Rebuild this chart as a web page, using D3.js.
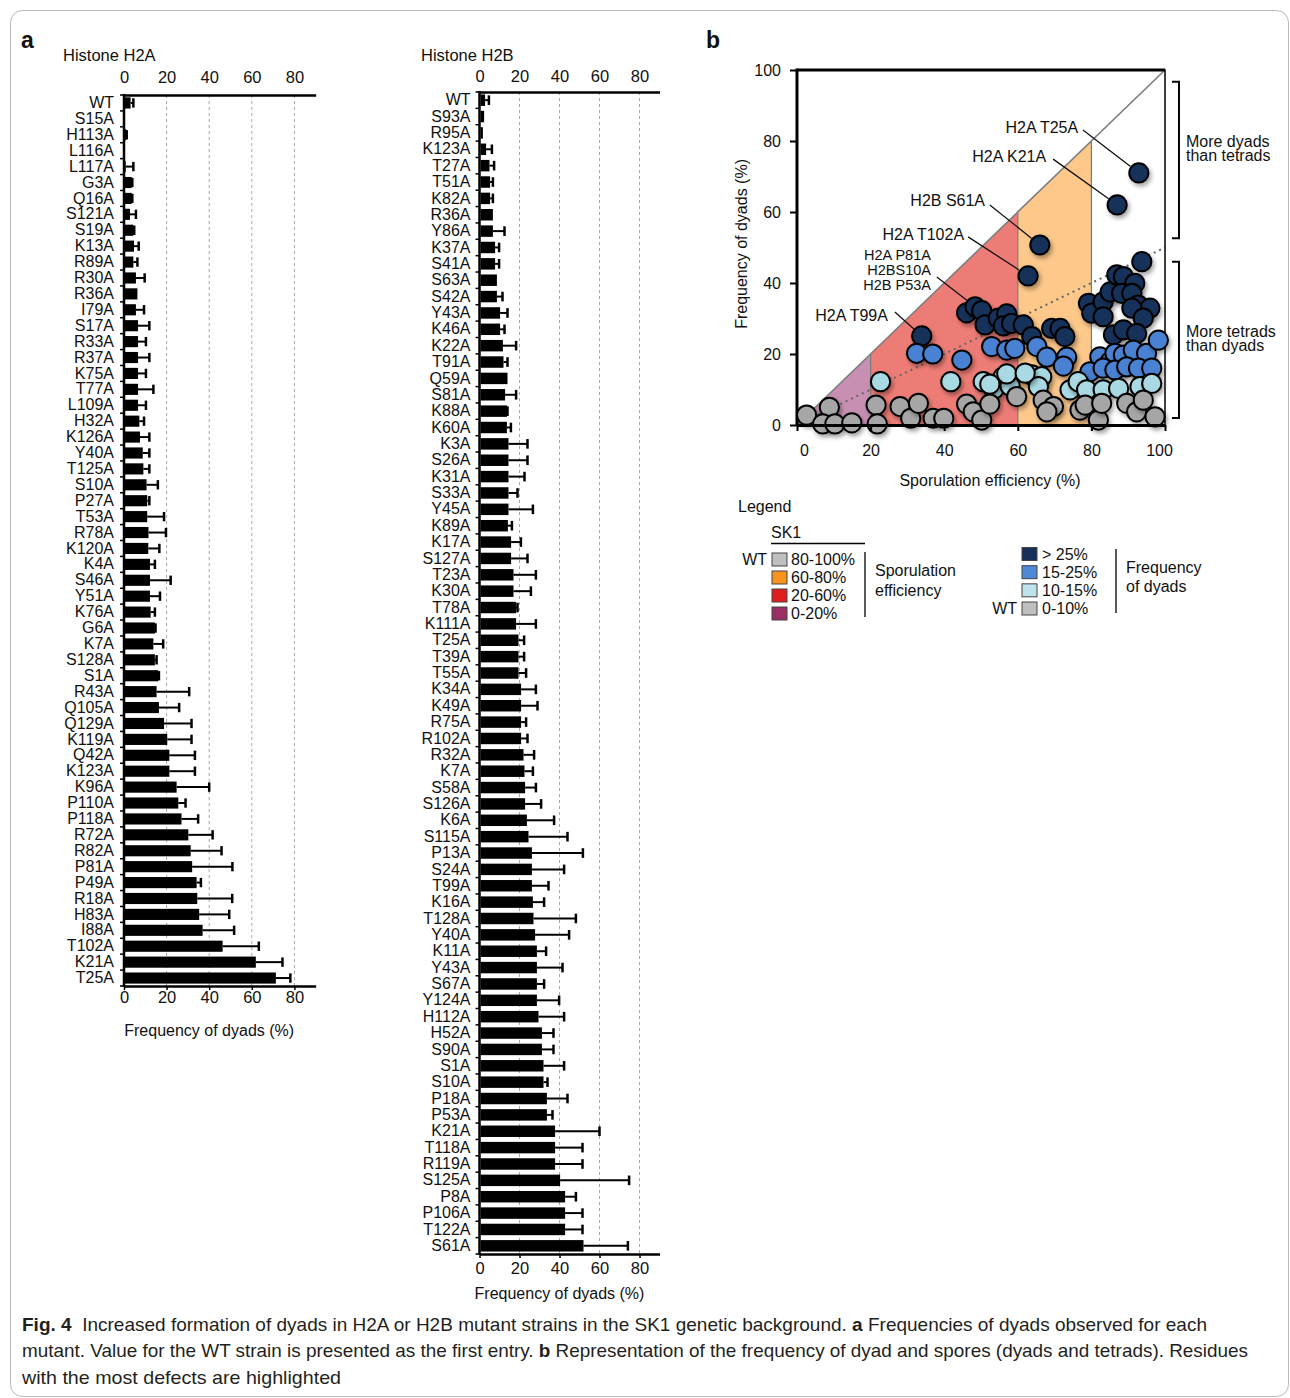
<!DOCTYPE html>
<html><head><meta charset="utf-8">
<script src="https://cdn.jsdelivr.net/npm/d3@7"></script>
<style>
body{margin:0;background:#fff}
svg{display:block}
text{font-family:"Liberation Sans",Arial,Helvetica,sans-serif;fill:#111}
</style></head>
<body><svg id="c" width="1290" height="1398"></svg>
<script>
// ---------------- DATA ----------------
const h2aLabels = ["WT","S15A","H113A","L116A","L117A","G3A","Q16A","S121A","S19A","K13A","R89A","R30A","R36A","I79A","S17A","R33A","R37A","K75A","T77A","L109A","H32A","K126A","Y40A","T125A","S10A","P27A","T53A","R78A","K120A","K4A","S46A","Y51A","K76A","G6A","K7A","S128A","S1A","R43A","Q105A","Q129A","K119A","Q42A","K123A","K96A","P110A","P118A","R72A","R82A","P81A","P49A","R18A","H83A","I88A","T102A","K21A","T25A"];
const h2aValues = [3.1,0.4,1.0,0.2,0.8,3.6,3.6,2.8,4.4,4.7,4.4,5.6,6.3,5.6,6.6,6.6,6.6,6.6,6.6,6.6,7.2,7.5,8.8,9.1,10.6,10.9,10.9,11.5,11.4,12.2,12.2,12.2,12.5,14.5,13.8,14.5,16.1,15.3,16.4,18.8,20.3,21.3,21.3,24.7,25.5,27.0,30.2,31.3,32.0,34.1,34.4,35.3,36.9,46.3,61.9,71.3];
const h2aErrors = [1.3,0,0.3,0,3.6,0.3,0.3,2.8,0.4,2.2,1.9,4.1,0,3.8,5.3,3.7,5.3,3.7,7.2,3.7,2.2,4.4,3.1,2.8,5.3,1.0,7.9,8.2,5.2,2.3,9.7,4.7,2.0,0.3,4.6,0.8,0.3,15.3,9.5,12.9,11.4,12.0,12.0,15.3,3.4,7.8,11.4,14.5,18.9,2.0,16.4,14.1,14.8,17.0,12.5,6.8];

const h2bLabels = ["WT","S93A","R95A","K123A","T27A","T51A","K82A","R36A","Y86A","K37A","S41A","S63A","S42A","Y43A","K46A","K22A","T91A","Q59A","S81A","K88A","K60A","K3A","S26A","K31A","S33A","Y45A","K89A","K17A","S127A","T23A","K30A","T78A","K111A","T25A","T39A","T55A","K34A","K49A","R75A","R102A","R32A","K7A","S58A","S126A","K6A","S115A","P13A","S24A","T99A","K16A","T128A","Y40A","K11A","Y43A","S67A","Y124A","H112A","H52A","S90A","S1A","S10A","P18A","P53A","K21A","T118A","R119A","S125A","P8A","P106A","T122A","S61A"];
const h2bValues = [2.8,2.3,1.7,3.3,5.0,5.3,5.3,6.7,6.7,7.8,7.8,8.7,8.7,10.3,10.3,11.7,12.0,14.0,12.8,13.7,13.7,14.5,14.5,14.5,14.5,14.5,14.2,15.8,15.8,17.0,17.0,18.3,18.3,19.5,19.5,19.5,20.8,20.8,20.8,20.8,22.0,22.5,22.8,22.8,23.7,24.5,26.2,26.2,26.2,26.7,27.0,27.8,28.7,28.7,28.7,28.7,29.5,31.2,31.2,32.0,32.0,33.7,33.7,37.8,37.8,37.8,40.3,42.8,42.8,42.8,52.0];
const h2bErrors = [1.9,0,0,2.9,2.3,1.4,1.4,0,5.8,2.0,2.0,0,2.8,3.7,2.2,6.6,2.0,0,5.5,0.3,2.0,9.5,9.5,8.0,4.5,12.2,2.0,4.9,8.2,11.2,8.7,0.7,9.9,2.8,2.8,3.8,7.4,8.2,2.5,3.2,5.3,4.2,5.4,8.0,13.6,19.5,25.5,16.1,8.3,5.6,21.2,17.0,4.6,12.8,3.6,11.1,12.8,5.8,5.8,10.3,2.0,10.3,2.8,22.2,13.7,13.7,34.5,5.4,8.7,8.7,22.2];

const barTicks = [0,20,40,60,80];
const scatterTicks = [0,20,40,60,80,100];

// scatter: sporulation efficiency (%), frequency of dyads (%), dyad class (0: >25, 1: 15-25, 2: 10-15, 3: 0-10)
const scatterSpo = [92.9,87.0,66.0,62.8,33.9,46.1,48.4,50.2,51.1,54.7,57.0,56.1,58.3,61.5,63.8,69.2,71.5,72.8,79.2,80.1,83.2,85.1,86.9,88.7,91.8,93.7,88.2,91.0,92.7,95.9,83.2,91.0,94.1,86.0,88.7,92.3,
  32.5,36.9,44.8,52.9,57.0,59.2,65.2,67.9,73.3,72.4,82.3,85.1,86.4,88.7,91.4,95.0,98.2,79.6,83.2,86.4,89.6,92.8,96.4,
  22.7,41.8,50.6,53.5,56.0,57.9,57.0,52.4,63.8,66.5,65.6,74.2,76.4,78.7,83.2,87.4,93.2,96.4,62.0,
  2.6,8.8,7.0,10.3,14.9,21.5,21.8,28.0,30.9,33.0,37.0,39.9,46.1,47.9,50.2,52.4,59.7,66.9,69.7,67.9,76.9,78.3,81.9,82.8,89.6,92.3,94.1,97.3];
const scatterDyad = [71.0,62.0,50.7,42.0,25.1,31.6,33.3,32.2,28.2,30.1,31.3,27.9,28.6,28.2,24.9,27.2,27.2,24.9,34.3,31.5,34.7,37.5,42.3,41.8,39.9,46.0,37.1,37.1,33.8,32.9,30.5,32.9,30.1,25.4,26.8,25.8,
  20.2,20.0,18.3,22.1,21.1,21.6,22.1,19.1,19.1,16.6,19.2,17.8,20.2,19.7,21.1,20.2,23.9,15.0,16.0,15.5,16.4,16.0,16.0,
  12.2,12.2,12.2,10.1,13.5,11.0,14.4,11.5,14.1,13.6,10.8,9.9,12.2,9.9,9.9,10.3,10.8,11.7,14.6,
  2.8,5.0,0.3,0.3,0.6,5.6,0.3,5.2,1.9,6.1,1.9,1.9,5.9,3.7,1.4,5.9,8.0,7.0,5.2,3.7,4.2,5.6,1.4,6.1,6.1,3.7,7.0,2.3];
const scatterClass = [].concat(Array(36).fill(0), Array(23).fill(1), Array(19).fill(2), Array(28).fill(3));

const annotationLabels = [["H2A T25A"],["H2A K21A"],["H2B S61A"],["H2A T102A"],["H2A P81A","H2BS10A","H2B P53A"],["H2A T99A"]];
const annotationTargets = [[92.9,71.0],[87.0,62.0],[66.0,50.7],[62.8,42.0],[48.4,33.3],[33.9,25.1]];

const sporLabels = ["80-100%","60-80%","20-60%","0-20%"];
const dyadLabels = ["> 25%","15-25%","10-15%","0-10%"];

// ---------------- STYLE / LAYOUT ----------------
const sporColors = ["#bfbfbf","#f7941e","#e01c1c","#9a2f62"];
const dyadColors = ["#16305a","#4f88d6","#bfe3ea","#bfbfbf"];
const pointColors = ["#16305a","#4a82d2","#a9dae3","#a6a6a6"];
const zoneColors = {purple:"#c78fb2", red:"#ee7c76", orange:"#fdc88a"};
const FONT = '"Liberation Sans", Arial, Helvetica, sans-serif';

const svg = d3.select("#c");
const defs = svg.append("defs");
const flt = defs.append("filter").attr("id","sh").attr("x","-60%").attr("y","-60%").attr("width","220%").attr("height","220%");
flt.append("feDropShadow").attr("dx",2).attr("dy",3).attr("stdDeviation",2).attr("flood-color","#000").attr("flood-opacity",0.35);

// figure border
svg.append("rect").attr("x",10.5).attr("y",10.5).attr("width",1278).attr("height",1386)
  .attr("rx",12).attr("fill","none").attr("stroke","#b8b8b8").attr("stroke-width",1);

// panel letters
svg.append("text").attr("x",21).attr("y",48).attr("font-size",23).attr("font-weight","bold").text("a");
svg.append("text").attr("x",706).attr("y",48).attr("font-size",23).attr("font-weight","bold").text("b");

function styleAxis(g, size){
  g.attr("font-family",FONT).attr("font-size",size);
  g.selectAll("text").attr("fill","#111");
}

function barPanel(o){
  const g = svg.append("g");
  const n = o.labels.length;
  const x = d3.scaleLinear().domain([0,90]).range(o.xRange);
  const y = d3.scaleBand().domain(d3.range(n)).range([o.yTop,o.yBottom]).paddingInner(0.3).paddingOuter(0.15);
  const step = y.step(), bw = y.bandwidth();
  g.selectAll("line.grid").data(barTicks.slice(1)).join("line")
    .attr("x1",d=>x(d)).attr("x2",d=>x(d)).attr("y1",o.yTop).attr("y2",o.yBottom)
    .attr("stroke","#a8a8a8").attr("stroke-width",1).attr("stroke-dasharray","3,3");
  g.selectAll("rect.bar").data(o.values).join("rect")
    .attr("x",x(0)+1).attr("y",(d,i)=>y(i)).attr("height",bw)
    .attr("width",d=>Math.max(0,x(d)-x(0)-1)).attr("fill","#000");
  const eb = g.selectAll("g.err").data(o.values.map((v,i)=>({v,e:o.errors[i],i})).filter(d=>d.e>0.05)).join("g");
  eb.append("line").attr("x1",d=>x(d.v)).attr("x2",d=>x(d.v+d.e))
    .attr("y1",d=>y(d.i)+bw/2).attr("y2",d=>y(d.i)+bw/2).attr("stroke","#000").attr("stroke-width",2);
  eb.append("line").attr("x1",d=>x(d.v+d.e)).attr("x2",d=>x(d.v+d.e))
    .attr("y1",d=>y(d.i)+bw*0.08).attr("y2",d=>y(d.i)+bw*0.92).attr("stroke","#000").attr("stroke-width",2.5);
  const la = g.append("g").attr("transform",`translate(${x(0)},0)`)
    .call(d3.axisLeft(y).tickFormat(i=>o.labels[i]).tickSize(0).tickPadding(o.labelPad));
  la.select(".domain").remove();
  styleAxis(la, 16);
  g.selectAll("line.btick").data(d3.range(n+1)).join("line")
    .attr("x1",x(0)-4).attr("x2",x(0)).attr("y1",i=>o.yTop+i*step).attr("y2",i=>o.yTop+i*step)
    .attr("stroke","#000").attr("stroke-width",1.5);
  g.append("line").attr("x1",x(0)).attr("x2",x(0)).attr("y1",o.yTop-1).attr("y2",o.yBottom+1)
    .attr("stroke","#000").attr("stroke-width",2.5);
  const ta = g.append("g").attr("transform",`translate(0,${o.yTop})`)
    .call(d3.axisTop(x).tickValues(barTicks).tickSize(0).tickPadding(o.topPad).tickSizeOuter(0));
  ta.select(".domain").attr("stroke-width",2.5);
  styleAxis(ta, 16.5);
  const ba = g.append("g").attr("transform",`translate(0,${o.yBottom})`)
    .call(d3.axisBottom(x).tickValues(barTicks).tickSize(4).tickPadding(o.botPad).tickSizeOuter(0));
  ba.select(".domain").attr("stroke-width",2.5);
  ba.selectAll(".tick line").attr("stroke-width",1.5);
  styleAxis(ba, 16.5);
  g.append("text").attr("x",o.titleX).attr("y",o.titleY).attr("font-size",16.5).text(o.title);
  g.append("text").attr("x",x(40)).attr("y",o.axisTitleY).attr("text-anchor","middle").attr("font-size",16).text("Frequency of dyads (%)");
}

barPanel({labels:h2aLabels, values:h2aValues, errors:h2aErrors, xRange:[124,315.7], yTop:95, yBottom:986,
  labelPad:10, topPad:12, botPad:1, title:"Histone H2A", titleX:63, titleY:61, axisTitleY:1036});
barPanel({labels:h2bLabels, values:h2bValues, errors:h2bErrors, xRange:[479.5,659.5], yTop:92, yBottom:1254,
  labelPad:9, topPad:10, botPad:4, title:"Histone H2B", titleX:421, titleY:61, axisTitleY:1299});

// ---------------- SCATTER ----------------
const sx = d3.scaleLinear().domain([0,100]).range([797,1165]);
const sy = d3.scaleLinear().domain([0,100]).range([425,70]);
const sg = svg.append("g");
const poly = pts => pts.map(p=>[sx(p[0]),sy(p[1])].join(",")).join(" ");
sg.append("polygon").attr("points",poly([[0,0],[20,20],[20,0]])).attr("fill",zoneColors.purple);
sg.append("polygon").attr("points",poly([[20,0],[20,20],[60,60],[60,0]])).attr("fill",zoneColors.red);
sg.append("polygon").attr("points",poly([[60,0],[60,60],[80,80],[80,0]])).attr("fill",zoneColors.orange);
[20,60,80].forEach(v=>{
  sg.append("line").attr("x1",sx(v)).attr("x2",sx(v)).attr("y1",sy(0)).attr("y2",sy(v))
    .attr("stroke","#7a7a7a").attr("stroke-width",1.2);
});
sg.append("line").attr("x1",sx(0)).attr("y1",sy(0)).attr("x2",sx(100)).attr("y2",sy(100))
  .attr("stroke","#7d7d7d").attr("stroke-width",1.6);
sg.append("line").attr("x1",sx(0)).attr("y1",sy(0)).attr("x2",sx(100)).attr("y2",sy(50))
  .attr("stroke","#666").attr("stroke-width",2).attr("stroke-dasharray","2,4");

sg.append("rect").attr("x",sx(0)).attr("y",sy(100)).attr("width",sx(100)-sx(0)).attr("height",sy(0)-sy(100))
  .attr("fill","none").attr("stroke","#000").attr("stroke-width",1.5);
sg.append("line").attr("x1",sx(0)).attr("x2",sx(100)).attr("y1",sy(100)).attr("y2",sy(100)).attr("stroke","#000").attr("stroke-width",3);
sg.append("line").attr("x1",sx(0)).attr("x2",sx(0)).attr("y1",sy(100)-1.5).attr("y2",sy(0)).attr("stroke","#000").attr("stroke-width",3);

const yAx = sg.append("g").attr("transform",`translate(${sx(0)},0)`)
  .call(d3.axisLeft(sy).tickValues(scatterTicks).tickSize(7).tickPadding(9).tickSizeOuter(0));
yAx.select(".domain").remove();
yAx.selectAll(".tick line").attr("stroke-width",2);
styleAxis(yAx,16);

const annAnchors = [[76.4,83.7],[67.7,75.8],[51.1,63.4],[45.4,53.8],[36.4,43.7],[24.7,31.0]];
const annLeadStart = [[77.7,83.1],[69.6,74.9],[52.4,62.0],[46.5,53.0],[38.0,41.7],[26.6,31.8]];
annotationLabels.forEach((lines,k)=>{
  const [ax,ay] = annAnchors[k];
  const nL = lines.length;
  const fs = nL>1 ? 14.5 : 16, gap = 15;
  lines.forEach((t,j)=>{
    sg.append("text").attr("x",sx(ax)).attr("y",sy(ay)+ (j-(nL-1)/2)*gap)
      .attr("dy","0.35em").attr("text-anchor","end").attr("font-size",fs).text(t);
  });
  const x1=sx(annLeadStart[k][0]), y1=sy(annLeadStart[k][1]);
  const cx=sx(annotationTargets[k][0]), cy=sy(annotationTargets[k][1]);
  const L=Math.hypot(cx-x1,cy-y1), r=10.5;
  sg.append("line").attr("x1",x1).attr("y1",y1).attr("x2",cx-(cx-x1)/L*r).attr("y2",cy-(cy-y1)/L*r)
    .attr("stroke","#111").attr("stroke-width",1.3);
});

const pts = scatterSpo.map((s,i)=>({s, d:scatterDyad[i], c:scatterClass[i]}));
[0,1,2,3].forEach(cls=>{
  sg.selectAll(null).data(pts.filter(p=>p.c===cls)).join("circle")
    .attr("cx",p=>sx(p.s)).attr("cy",p=>sy(p.d)).attr("r",9.6)
    .attr("fill",pointColors[cls]).attr("stroke","#000").attr("stroke-width",2)
    .attr("filter","url(#sh)");
});

const xAx = sg.append("g").attr("transform",`translate(0,${sy(0)})`)
  .call(d3.axisBottom(sx).tickValues(scatterTicks).tickSize(6).tickPadding(14).tickSizeOuter(0));
xAx.select(".domain").attr("stroke-width",3);
xAx.selectAll(".tick line").attr("stroke-width",2);
styleAxis(xAx,16);
xAx.selectAll(".tick text").attr("dx",d=>d===0?7:(d===100?-6:0));

sg.append("text").attr("transform",`translate(${741},${sy(51)}) rotate(-90)`).attr("dy","0.35em")
  .attr("text-anchor","middle").attr("font-size",16).text("Frequency of dyads (%)");
sg.append("text").attr("x",990).attr("y",486).attr("text-anchor","middle").attr("font-size",16).text("Sporulation efficiency (%)");

function bracket(y0,y1,lines,ty){
  const bx = sx(103.8), arm = 7;
  sg.append("path").attr("d",`M${bx-arm},${sy(y0)}H${bx}V${sy(y1)}H${bx-arm}`)
    .attr("fill","none").attr("stroke","#000").attr("stroke-width",2);
  lines.forEach((t,j)=>sg.append("text").attr("x",sx(105.7)).attr("y",sy(ty)+j*14.5).attr("dy","0.35em")
    .attr("font-size",16).text(t));
}
bracket(96.7,52.6,["More dyads","than tetrads"],79.9);
bracket(46.0,2.0,["More tetrads","than dyads"],26.5);

// ---------------- LEGEND ----------------
const lg = svg.append("g");
lg.append("text").attr("x",738).attr("y",512).attr("font-size",16).text("Legend");
lg.append("text").attr("x",771).attr("y",538).attr("font-size",16).text("SK1");
lg.append("line").attr("x1",771).attr("x2",865).attr("y1",543.5).attr("y2",543.5).attr("stroke","#000").attr("stroke-width",1.3);
const rowL = d3.scaleLinear().domain([0,3]).range([559.5,613.5]);
lg.selectAll("rect.sp").data(sporLabels).join("rect")
  .attr("x",772).attr("y",(d,i)=>rowL(i)-6.5).attr("width",15).attr("height",13)
  .attr("fill",(d,i)=>sporColors[i]).attr("stroke","#444").attr("stroke-width",1);
lg.selectAll("text.sp").data(sporLabels).join("text")
  .attr("x",791).attr("y",(d,i)=>rowL(i)).attr("dy","0.35em").attr("font-size",16).text(d=>d);
lg.append("text").attr("x",767).attr("y",rowL(0)).attr("dy","0.35em").attr("text-anchor","end").attr("font-size",16).text("WT");
lg.append("line").attr("x1",865).attr("x2",865).attr("y1",552).attr("y2",617).attr("stroke","#000").attr("stroke-width",1.3);
lg.append("text").attr("x",875).attr("y",570).attr("dy","0.35em").attr("font-size",16).text("Sporulation");
lg.append("text").attr("x",875).attr("y",590).attr("dy","0.35em").attr("font-size",16).text("efficiency");

const rowR = d3.scaleLinear().domain([0,3]).range([554,608.5]);
lg.selectAll("rect.dy").data(dyadLabels).join("rect")
  .attr("x",1022).attr("y",(d,i)=>rowR(i)-6.5).attr("width",15).attr("height",13)
  .attr("fill",(d,i)=>dyadColors[i]).attr("stroke","#444").attr("stroke-width",1);
lg.selectAll("text.dy").data(dyadLabels).join("text")
  .attr("x",1042).attr("y",(d,i)=>rowR(i)).attr("dy","0.35em").attr("font-size",16).text(d=>d);
lg.append("text").attr("x",1017).attr("y",rowR(3)).attr("dy","0.35em").attr("text-anchor","end").attr("font-size",16).text("WT");
lg.append("line").attr("x1",1116).attr("x2",1116).attr("y1",549).attr("y2",613).attr("stroke","#000").attr("stroke-width",1.3);
lg.append("text").attr("x",1126).attr("y",567).attr("dy","0.35em").attr("font-size",16).text("Frequency");
lg.append("text").attr("x",1126).attr("y",586).attr("dy","0.35em").attr("font-size",16).text("of dyads");

// ---------------- CAPTION ----------------
// parts: [text, bold, spaces before]
const capLines = [
  {y:1331, w:1185, parts:[["Fig. 4",true,0],["Increased formation of dyads in H2A or H2B mutant strains in the SK1 genetic background.",false,2],["a",true,1],["Frequencies of dyads observed for each",false,1]]},
  {y:1357, w:1226, parts:[["mutant. Value for the WT strain is presented as the first entry.",false,0],["b",true,1],["Representation of the frequency of dyad and spores (dyads and tetrads). Residues",false,1]]},
  {y:1384, w:319, parts:[["with the most defects are highlighted",false,0]]}
];
const CAPFONT = '"Liberation Sans Narrow","Open Sans","Noto Sans",sans-serif';
const probe = svg.append("text").attr("font-size",19).attr("font-family",CAPFONT).attr("y",-50).text("a a");
const probeA = svg.append("text").attr("font-size",19).attr("font-family",CAPFONT).attr("y",-50).text("aa");
const spaceW = probe.node().getComputedTextLength() - probeA.node().getComputedTextLength();
probe.remove(); probeA.remove();
capLines.forEach(l=>{
  const nodes = l.parts.map(p=>svg.append("text").attr("y",l.y).attr("font-size",19).attr("font-family",CAPFONT)
      .attr("font-weight",p[1]?"bold":"normal").style("fill","#231f20").text(p[0]));
  const widths = nodes.map(t=>t.node().getComputedTextLength());
  const gaps = l.parts.map(p=>p[2]*spaceW);
  const total = d3.sum(widths)+d3.sum(gaps), k = l.w/total;
  let cx = 22;
  nodes.forEach((t,i)=>{
    cx += gaps[i]*k;
    const w = widths[i]*k;
    t.attr("x",cx).attr("textLength",w).attr("lengthAdjust","spacingAndGlyphs");
    cx += w;
  });
});
</script>
</body></html>
